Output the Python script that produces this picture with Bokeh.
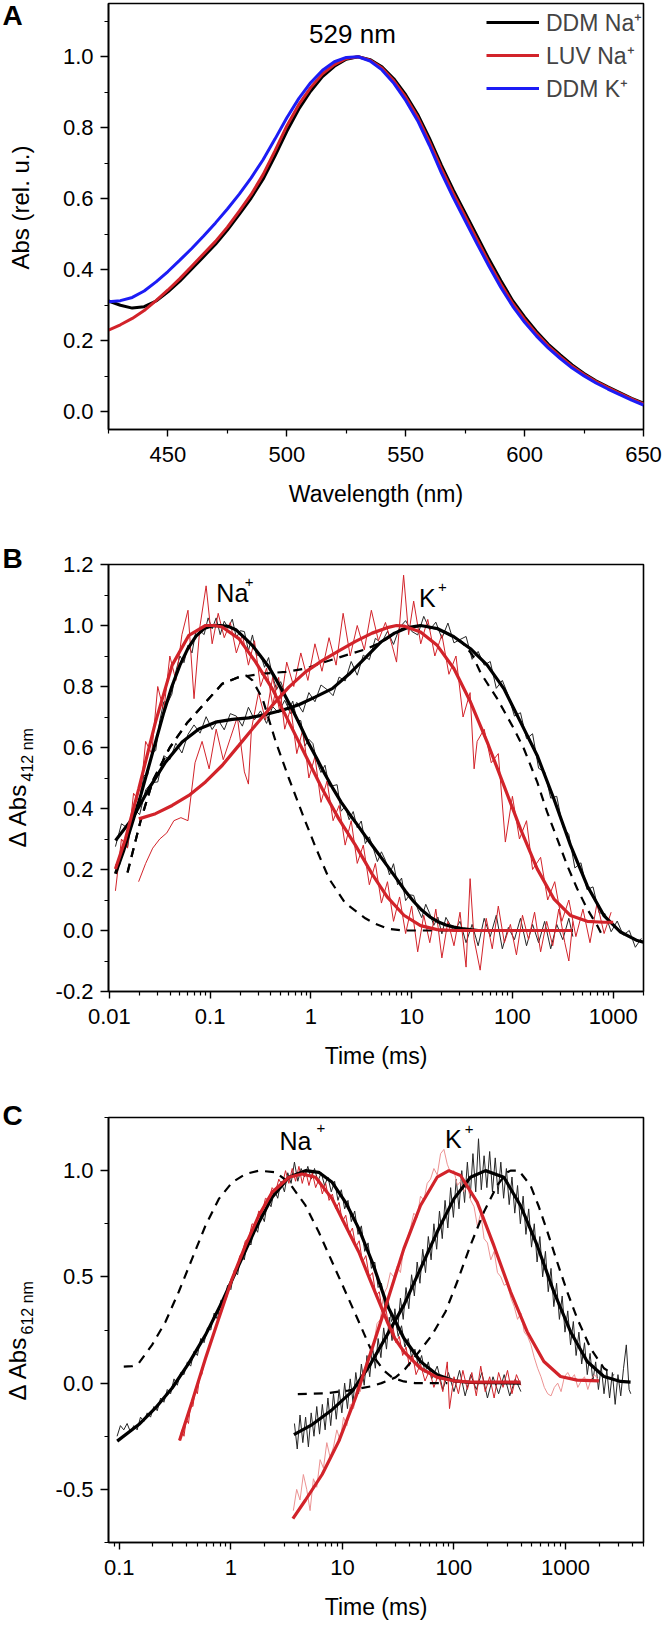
import numpy as np
from bokeh.plotting import figure
from bokeh.layouts import column, row
from bokeh.models import FixedTicker, Label, Legend, LegendItem, CustomJSTickFormatter
from bokeh.core.properties import value
from bokeh.embed import file_html
from bokeh.resources import INLINE

FONT = "Liberation Sans"
RED = "#d2232a"
PALE_RED = "#ec9393"
BLUE = "#1c1cf5"
GREY = "#262626"

# ---------------- Panel A : absorption spectra ----------------
A_WAVELENGTH = [425, 430, 435, 440, 445, 450, 455, 460, 465, 470, 475, 480, 485, 490, 495, 500,
                505, 510, 515, 520, 525, 530, 535, 540, 545, 550, 555, 560, 565, 570, 575, 580,
                585, 590, 595, 600, 605, 610, 615, 620, 625, 630, 635, 640, 645, 650]
A_DDM_NA = [0.312, 0.300, 0.292, 0.296, 0.312, 0.338, 0.368, 0.402, 0.437, 0.472, 0.512, 0.556,
            0.602, 0.655, 0.720, 0.790, 0.852, 0.903, 0.944, 0.973, 0.993, 1.000, 0.992, 0.972,
            0.938, 0.893, 0.838, 0.770, 0.695, 0.625, 0.560, 0.495, 0.430, 0.370, 0.313, 0.267,
            0.226, 0.190, 0.160, 0.132, 0.108, 0.087, 0.070, 0.054, 0.038, 0.024]
A_LUV_NA = [0.230, 0.245, 0.263, 0.285, 0.313, 0.343, 0.375, 0.410, 0.445, 0.480, 0.520, 0.565,
            0.612, 0.668, 0.735, 0.805, 0.865, 0.913, 0.952, 0.978, 0.995, 1.000, 0.990, 0.968,
            0.932, 0.886, 0.830, 0.760, 0.685, 0.615, 0.550, 0.485, 0.420, 0.360, 0.305, 0.260,
            0.220, 0.185, 0.155, 0.128, 0.105, 0.085, 0.068, 0.052, 0.036, 0.022]
A_DDM_K = [0.310, 0.313, 0.322, 0.340, 0.366, 0.395, 0.427, 0.460, 0.495, 0.532, 0.571, 0.613,
           0.659, 0.710, 0.768, 0.828, 0.882, 0.927, 0.962, 0.986, 0.998, 1.000, 0.988, 0.963,
           0.925, 0.877, 0.820, 0.750, 0.673, 0.603, 0.538, 0.473, 0.410, 0.350, 0.297, 0.252,
           0.213, 0.179, 0.150, 0.123, 0.101, 0.081, 0.064, 0.048, 0.033, 0.019]

# ---------------- Panel B : dAbs 412 nm  (pairs: log10(time/ms), value) ----------------
B_NA_BLK_FIT = [(-1.94, .186), (-1.86, .26), (-1.78, .345), (-1.70, .43), (-1.62, .525), (-1.54, .62),
                (-1.46, .715), (-1.38, .80), (-1.30, .87), (-1.22, .925), (-1.14, .965), (-1.06, .99),
                (-0.98, .999), (-0.90, 1.0), (-0.82, .997), (-0.74, .985), (-0.66, .96), (-0.58, .934),
                (-0.50, .90), (-0.42, .865), (-0.34, .82), (-0.26, .772), (-0.18, .722), (-0.10, .668),
                (-0.02, .612), (0.06, .563), (0.14, .512), (0.22, .465), (0.30, .421), (0.38, .383),
                (0.46, .347), (0.54, .31), (0.62, .274), (0.70, .238), (0.78, .202), (0.86, .165),
                (0.94, .128), (1.02, .095), (1.10, .067), (1.18, .045), (1.26, .029), (1.34, .018),
                (1.42, .011), (1.50, .006), (1.58, .003), (1.66, 0.0), (2.00, 0.0), (2.60, 0.0)]
B_NA_RED_FIT = [(-1.94, .202), (-1.84, .301), (-1.708, .465), (-1.542, .684), (-1.377, .870),
                (-1.211, .968), (-1.046, 1.0), (-0.96, 1.0), (-0.881, .995), (-0.715, .957),
                (-0.550, .881), (-0.384, .793), (-0.219, .684), (-0.053, .574), (0.112, .465),
                (0.277, .366), (0.443, .279), (0.608, .185), (0.757, .11), (0.923, .05), (1.088, .016),
                (1.253, .003), (1.419, 0.0), (2.593, 0.0)]
B_K_BLK_FIT = [(-1.939, .295), (-1.774, .366), (-1.608, .465), (-1.443, .552), (-1.278, .618),
               (-1.112, .661), (-0.947, .683), (-0.781, .692), (-0.616, .697), (-0.450, .708),
               (-0.285, .722), (-0.120, .740), (0.046, .766), (0.212, .793), (0.377, .84), (0.542, .895),
               (0.691, .945), (0.830, .975), (0.960, .993), (1.088, 1.0), (1.253, .99), (1.419, .963),
               (1.584, .924), (1.750, .870), (1.915, .793), (2.080, .684), (2.246, .574), (2.411, .432),
               (2.577, .279), (2.742, .147), (2.908, .049), (3.073, -.005), (3.239, -.033), (3.30, -.038)]
B_K_RED_FIT = [(-1.708, .366), (-1.542, .383), (-1.377, .410), (-1.211, .443), (-1.046, .487),
               (-0.881, .541), (-0.715, .607), (-0.550, .673), (-0.384, .738), (-0.219, .798),
               (-0.053, .848), (0.112, .885), (0.277, .917), (0.443, .948), (0.608, .975), (0.757, .993),
               (0.85, 1.0), (0.923, .998), (1.088, .979), (1.253, .935), (1.419, .859), (1.584, .749),
               (1.750, .618), (1.915, .476), (2.080, .333), (2.246, .202), (2.411, .104), (2.577, .049),
               (2.742, .030), (2.908, .027), (3.0, .027)]
B_NA_DASH = [(-1.82, .19), (-1.69, .36), (-1.57, .49), (-1.40, .60), (-1.23, .68), (-1.10, .728),
             (-0.88, .809), (-0.72, .830), (-0.64, .836), (-0.58, .82), (-0.48, .76), (-0.35, .62),
             (-0.22, .50), (-0.07, .37), (0.05, .27), (0.18, .17), (0.34, .09), (0.54, .04), (0.64, .022),
             (0.76, .006), (0.92, 0.0), (2.58, 0.0)]
B_K_DASH = [(-1.82, .19), (-1.69, .36), (-1.57, .49), (-1.40, .60), (-1.23, .68), (-1.10, .728),
            (-0.88, .809), (-0.72, .830), (-0.48, .842), (-0.25, .848), (-0.05, .859), (0.145, .881),
            (0.344, .902), (0.542, .922), (0.70, .945), (0.90, .988), (1.10, 1.0), (1.30, .985),
            (1.50, .945), (1.60, .905), (1.684, .845), (1.849, .760), (2.014, .662), (2.114, .596),
            (2.246, .487), (2.345, .388), (2.444, .301), (2.544, .213), (2.643, .137), (2.742, .071),
            (2.842, .016), (2.897, -.02)]
B_NA_BLK_RAW = [(-1.94, .216), (-1.90, .213), (-1.86, .28), (-1.82, .273), (-1.78, .355), (-1.74, .413),
                (-1.70, .41), (-1.66, .508), (-1.62, .51), (-1.58, .583), (-1.54, .59), (-1.50, .688),
                (-1.46, .75), (-1.42, .748), (-1.38, .775), (-1.34, .85), (-1.30, .90), (-1.26, .878),
                (-1.22, .935), (-1.18, .91), (-1.14, .985), (-1.10, .983), (-1.06, .97), (-1.02, 1.025),
                (-0.98, .989), (-0.94, 1.025), (-0.90, .97), (-0.86, 1.014), (-0.82, .992), (-0.78, 1.021),
                (-0.74, .96), (-0.70, .983), (-0.66, .98), (-0.62, .917), (-0.58, .969), (-0.54, .902),
                (-0.50, .905), (-0.46, .863), (-0.42, .895), (-0.38, .833), (-0.34, .79), (-0.30, .816),
                (-0.26, .782), (-0.22, .722), (-0.18, .752), (-0.14, .69), (-0.10, .688), (-0.06, .605),
                (-0.02, .627), (0.02, .613), (0.06, .553), (0.10, .518), (0.14, .542), (0.18, .474),
                (0.22, .475), (0.26, .478), (0.30, .391), (0.34, .407), (0.38, .363), (0.42, .39),
                (0.46, .337), (0.50, .359), (0.54, .285), (0.58, .307), (0.62, .269), (0.66, .226),
                (0.70, .258), (0.74, .23), (0.78, .182), (0.82, .219), (0.86, .15), (0.90, .172),
                (0.94, .098), (0.98, .117), (1.02, .115), (1.06, .071), (1.10, .042), (1.14, .086),
                (1.18, .055), (1.22, .017), (1.26, .044), (1.30, -.011), (1.34, .043), (1.38, .02),
                (1.42, -.004), (1.48, .03), (1.54, -.04), (1.60, .02), (1.66, -.05), (1.72, .04),
                (1.78, -.02), (1.84, .05), (1.90, -.06), (1.96, .01), (2.02, -.03), (2.08, .04),
                (2.14, -.05), (2.20, .02), (2.26, -.04), (2.32, .03), (2.38, -.06), (2.44, .02),
                (2.50, -.03), (2.56, .04), (2.60, -.02)]
B_NA_RED_RAW = [(-1.94, .13), (-1.88, .30), (-1.82, .27), (-1.76, .45), (-1.70, .42), (-1.64, .62),
                (-1.58, .58), (-1.52, .80), (-1.46, .72), (-1.40, .90), (-1.34, .82), (-1.28, .97),
                (-1.22, 1.05), (-1.16, .76), (-1.10, 1.00), (-1.04, 1.13), (-0.98, .94), (-0.92, 1.04),
                (-0.86, .96), (-0.80, 1.01), (-0.74, .91), (-0.68, .97), (-0.62, .87), (-0.56, .95),
                (-0.50, .80), (-0.44, .86), (-0.38, .74), (-0.32, .83), (-0.26, .66), (-0.20, .73),
                (-0.14, .58), (-0.08, .66), (-0.02, .50), (0.04, .57), (0.10, .42), (0.16, .49),
                (0.22, .36), (0.28, .41), (0.34, .28), (0.40, .36), (0.46, .22), (0.52, .28),
                (0.58, .15), (0.64, .22), (0.70, .09), (0.76, .16), (0.82, .03), (0.88, .11),
                (0.94, -.01), (1.00, .08), (1.06, -.07), (1.12, .05), (1.18, -.04), (1.24, .07),
                (1.30, -.09), (1.36, .03), (1.42, -.05), (1.48, .06), (1.54, -.12), (1.58, .17),
                (1.62, -.03), (1.68, -.13), (1.74, .04), (1.80, -.06), (1.86, .08), (1.92, -.04),
                (1.98, .02), (2.04, -.08), (2.10, .05), (2.16, -.03), (2.22, .06), (2.28, -.07),
                (2.34, .03), (2.40, -.05), (2.46, .07), (2.52, -.04), (2.56, -.10), (2.60, .03)]
B_K_BLK_RAW = [(-1.94, .275), (-1.88, .35), (-1.82, .336), (-1.76, .399), (-1.70, .38), (-1.64, .461),
               (-1.58, .485), (-1.52, .487), (-1.46, .573), (-1.40, .56), (-1.34, .614), (-1.28, .582),
               (-1.22, .643), (-1.16, .674), (-1.10, .647), (-1.04, .701), (-0.98, .659), (-0.92, .69),
               (-0.86, .658), (-0.80, .711), (-0.74, .703), (-0.68, .67), (-0.62, .732), (-0.56, .691),
               (-0.50, .72), (-0.44, .679), (-0.38, .734), (-0.32, .714), (-0.26, .755), (-0.20, .711),
               (-0.14, .748), (-0.08, .716), (-0.02, .78), (0.04, .75), (0.10, .805), (0.16, .79),
               (0.22, .77), (0.28, .831), (0.34, .818), (0.40, .882), (0.46, .837), (0.52, .903),
               (0.58, .888), (0.64, .958), (0.70, .942), (0.76, .981), (0.82, .938), (0.88, .993),
               (0.94, 1.016), (1.00, .981), (1.06, .969), (1.12, 1.03), (1.18, .986), (1.24, 1.011),
               (1.30, .958), (1.36, 1.008), (1.42, .943), (1.48, .954), (1.54, .964), (1.60, .889),
               (1.66, .915), (1.72, .87), (1.78, .882), (1.84, .794), (1.90, .82), (1.96, .77),
               (2.02, .703), (2.08, .714), (2.14, .629), (2.20, .645), (2.26, .532), (2.32, .52),
               (2.38, .434), (2.44, .44), (2.50, .34), (2.56, .315), (2.62, .205), (2.68, .222),
               (2.74, .134), (2.80, .143), (2.86, .058), (2.92, .055), (2.98, -.004), (3.04, .031),
               (3.10, -.015), (3.16, 0.0), (3.22, -.055), (3.28, -.026)]
B_K_RED_RAW = [(-1.71, .16), (-1.64, .22), (-1.57, .27), (-1.50, .30), (-1.43, .32), (-1.36, .36),
               (-1.29, .37), (-1.22, .36), (-1.15, .55), (-1.08, .62), (-1.01, .53), (-0.94, .66),
               (-0.87, .56), (-0.80, .63), (-0.73, .70), (-0.66, .52), (-0.62, .48), (-0.59, .66),
               (-0.52, .78), (-0.45, .69), (-0.38, .83), (-0.31, .72), (-0.24, .88), (-0.17, .80),
               (-0.10, .91), (-0.03, .82), (0.04, .94), (0.11, .85), (0.18, .96), (0.25, .87),
               (0.32, 1.04), (0.39, .90), (0.46, 1.00), (0.53, .92), (0.60, 1.05), (0.67, .95),
               (0.74, 1.01), (0.81, .93), (0.85, .88), (0.92, 1.165), (0.97, .97), (1.02, 1.08),
               (1.09, .94), (1.16, 1.02), (1.23, .90), (1.30, .97), (1.37, .84), (1.44, .90),
               (1.51, .70), (1.58, .78), (1.62, .53), (1.65, .62), (1.72, .66), (1.79, .55),
               (1.86, .58), (1.93, .29), (2.00, .44), (2.07, .30), (2.14, .36), (2.20, .20),
               (2.28, .24), (2.35, .10), (2.42, .16), (2.49, .03), (2.56, .10), (2.63, -.02),
               (2.70, .07), (2.77, -.04), (2.84, .09), (2.91, -.01), (2.98, .06)]

# ---------------- Panel C : dAbs 612 nm  (pairs: log10(time/ms), value) ----------------
C_NA_BLK_FIT = [(-1.019, -.273), (-0.825, -.195), (-0.676, -.117), (-0.526, -.023), (-0.377, .094),
                (-0.227, .227), (-0.078, .383), (0.071, .555), (0.221, .727), (0.370, .875), (0.520, .969),
                (0.669, 1.0), (0.788, .992), (0.908, .945), (1.027, .852), (1.147, .727), (1.267, .570),
                (1.401, .367), (1.551, .211), (1.700, .102), (1.849, .039), (1.999, .011), (2.148, .003),
                (2.596, 0.0)]
C_NA_RED_FIT = [(-0.460, -.270), (-0.347, -.086), (-0.227, .117), (-0.108, .305), (0.012, .492),
                (0.131, .648), (0.251, .789), (0.370, .898), (0.520, .969), (0.639, .984), (0.759, .969),
                (0.908, .867), (1.027, .742), (1.147, .617), (1.267, .461), (1.341, .367), (1.401, .29),
                (1.47, .21), (1.551, .148), (1.700, .070), (1.849, .027), (1.999, .011), (2.148, .005),
                (2.596, .005)]
C_K_BLK_FIT = [(0.565, -.242), (0.729, -.195), (0.908, -.125), (1.087, -.039), (1.252, .09), (1.401, .227),
               (1.551, .367), (1.700, .539), (1.849, .711), (1.999, .867), (2.148, .969), (2.283, 1.0),
               (2.447, .969), (2.596, .836), (2.746, .648), (2.895, .430), (3.045, .242), (3.194, .102),
               (3.344, .031), (3.493, .008), (3.583, .005)]
C_K_RED_FIT = [(0.556, -.638), (0.669, -.55), (0.818, -.43), (0.968, -.273), (1.117, -.070), (1.267, .164),
               (1.401, .383), (1.551, .633), (1.700, .836), (1.849, .969), (1.954, 1.0), (2.059, .977),
               (2.208, .852), (2.357, .648), (2.507, .430), (2.656, .242), (2.806, .102), (2.955, .031),
               (3.104, .014), (3.299, .011)]
C_NA_DASH = [(-0.960, .078), (-0.885, .080), (-0.825, .094), (-0.706, .180), (-0.586, .289), (-0.467, .430),
             (-0.347, .586), (-0.227, .742), (-0.108, .867), (0.012, .945), (0.131, .984), (0.251, 1.0),
             (0.400, .992), (0.520, .945), (0.669, .836), (0.788, .711), (0.908, .570), (1.027, .430),
             (1.147, .289), (1.237, .180), (1.30, .11), (1.37, .06), (1.45, .025), (1.55, .008),
             (1.65, 0.0), (1.94, 0.0)]
C_K_DASH = [(0.60, -.052), (0.85, -.048), (1.05, -.035), (1.25, -.016), (1.35, 0.0), (1.476, .027),
            (1.56, .065), (1.640, .117), (1.72, .17), (1.804, .227), (1.924, .336), (2.029, .477),
            (2.148, .649), (2.268, .805), (2.387, .930), (2.477, .992), (2.507, 1.0), (2.582, 1.0),
            (2.686, .930), (2.761, .83), (2.836, .715), (2.925, .570), (3.015, .430), (3.104, .305),
            (3.224, .164), (3.344, .070), (3.433, .039)]
C_NA_BLK_RAW = [(-1.02, -.25), (-0.99, -.20), (-0.96, -.22), (-0.93, -.19), (-0.90, -.23), (-0.87, -.20),
                (-0.84, -.22), (-0.81, -.16), (-0.78, -.18), (-0.75, -.14), (-0.72, -.16), (-0.69, -.11),
                (-0.66, -.13), (-0.63, -.07), (-0.60, -.09), (-0.57, -.03), (-0.54, -.05), (-0.51, .02),
                (-0.48, -.01), (-0.45, .05), (-0.42, .04), (-0.39, .10), (-0.36, .08), (-0.33, .15),
                (-0.30, .13), (-0.27, .21), (-0.24, .19), (-0.21, .26), (-0.18, .25), (-0.15, .33),
                (-0.12, .30), (-0.09, .39), (-0.06, .38), (-0.03, .46), (0.00, .44), (0.03, .53),
                (0.06, .51), (0.09, .60), (0.12, .58), (0.15, .67), (0.18, .65), (0.21, .74), (0.24, .71),
                (0.27, .80), (0.30, .76), (0.33, .86), (0.36, .83), (0.39, .91), (0.42, .87), (0.45, .95),
                (0.48, .90), (0.51, .99), (0.54, .94), (0.57, 1.04), (0.60, .95), (0.63, 1.01), (0.66, .97),
                (0.69, 1.02), (0.72, .96), (0.75, 1.01), (0.78, .95), (0.81, .99), (0.84, .93), (0.87, .97),
                (0.90, .90), (0.93, .95), (0.96, .86), (0.99, .91), (1.02, .82), (1.05, .86), (1.08, .76),
                (1.11, .81), (1.14, .70), (1.17, .74), (1.20, .62), (1.23, .66), (1.26, .54), (1.29, .57),
                (1.32, .45), (1.35, .47), (1.38, .36), (1.41, .39), (1.44, .29), (1.47, .32), (1.50, .22),
                (1.53, .27), (1.56, .17), (1.59, .21), (1.62, .12), (1.65, .16), (1.68, .08), (1.71, .13),
                (1.74, .05), (1.77, .10), (1.80, .02), (1.85, .08), (1.90, -.03), (1.95, .05), (2.00, -.04),
                (2.05, .06), (2.10, -.06), (2.15, .04), (2.20, -.03), (2.25, .05), (2.30, -.07), (2.35, .03),
                (2.40, -.05), (2.45, .04), (2.50, -.06), (2.55, .02), (2.60, -.04)]
C_NA_RED_RAW = [(-0.46, -.27), (-0.44, -.22), (-0.42, -.25), (-0.40, -.17), (-0.38, -.19), (-0.36, -.10),
                (-0.34, -.11), (-0.32, -.03), (-0.30, -.05), (-0.28, .03), (-0.26, .04), (-0.24, .10),
                (-0.22, .12), (-0.20, .16), (-0.18, .19), (-0.16, .22), (-0.14, .25), (-0.12, .28),
                (-0.10, .32), (-0.08, .34), (-0.06, .38), (-0.04, .40), (-0.02, .44), (0.00, .48),
                (0.02, .50), (0.04, .54), (0.06, .55), (0.08, .60), (0.10, .61), (0.13, .67), (0.16, .68),
                (0.19, .75), (0.22, .74), (0.25, .81), (0.28, .80), (0.31, .87), (0.34, .86), (0.37, .92),
                (0.40, .90), (0.43, .96), (0.46, .93), (0.49, 1.00), (0.52, .94), (0.55, 1.01), (0.58, .95),
                (0.61, 1.02), (0.64, .94), (0.67, 1.00), (0.70, .93), (0.73, .99), (0.76, .92), (0.79, .96),
                (0.82, .89), (0.85, .94), (0.88, .86), (0.91, .89), (0.94, .82), (0.97, .85), (1.00, .76),
                (1.03, .79), (1.06, .70), (1.09, .73), (1.12, .64), (1.15, .67), (1.18, .57), (1.21, .60),
                (1.24, .50), (1.27, .52), (1.30, .41), (1.33, .43), (1.36, .33), (1.39, .35), (1.42, .25),
                (1.45, .27), (1.48, .19), (1.51, .22), (1.54, .13), (1.57, .17), (1.60, .08), (1.63, .13),
                (1.66, .04), (1.70, .09), (1.74, .01), (1.78, .06), (1.82, -.02), (1.86, .04), (1.90, -.04),
                (1.94, .10), (1.96, -.12), (2.00, .03), (2.04, -.05), (2.08, .06), (2.12, -.03), (2.16, .05),
                (2.20, -.06), (2.24, .08), (2.28, -.04), (2.32, .03), (2.36, -.07), (2.40, .05), (2.44, -.02),
                (2.48, .06), (2.52, -.05), (2.56, .04), (2.60, -.01)]
C_K_BLK_RAW = [(0.57, -.19), (0.595, -.31), (0.62, -.15), (0.645, -.28), (0.67, -.16), (0.695, -.30),
               (0.72, -.14), (0.745, -.25), (0.77, -.11), (0.795, -.24), (0.82, -.10), (0.845, -.22),
               (0.87, -.07), (0.895, -.20), (0.92, -.05), (0.945, -.17), (0.97, -.03), (0.995, -.14),
               (1.02, .00), (1.045, -.12), (1.07, .02), (1.095, -.09), (1.12, .05), (1.145, -.05),
               (1.17, .09), (1.195, -.01), (1.22, .13), (1.245, .03), (1.27, .17), (1.295, .07),
               (1.32, .21), (1.345, .12), (1.37, .26), (1.395, .16), (1.42, .31), (1.445, .20),
               (1.47, .35), (1.495, .25), (1.52, .40), (1.545, .30), (1.57, .45), (1.595, .35),
               (1.62, .51), (1.645, .41), (1.67, .57), (1.695, .47), (1.72, .63), (1.745, .52),
               (1.77, .69), (1.795, .58), (1.82, .75), (1.845, .63), (1.87, .81), (1.895, .68),
               (1.92, .86), (1.945, .73), (1.97, .92), (1.995, .78), (2.02, .96), (2.045, .82),
               (2.07, 1.00), (2.095, .85), (2.12, 1.04), (2.145, .87), (2.17, 1.08), (2.195, .90),
               (2.22, 1.15), (2.245, .91), (2.27, 1.07), (2.295, .92), (2.32, 1.09), (2.345, .90),
               (2.37, 1.06), (2.395, .89), (2.42, 1.04), (2.445, .87), (2.47, 1.01), (2.495, .84),
               (2.52, .97), (2.545, .80), (2.57, .93), (2.595, .75), (2.62, .88), (2.645, .70),
               (2.67, .82), (2.695, .64), (2.72, .75), (2.745, .57), (2.77, .69), (2.795, .50),
               (2.82, .62), (2.845, .43), (2.87, .54), (2.895, .36), (2.92, .47), (2.945, .30),
               (2.97, .41), (2.995, .24), (3.02, .34), (3.045, .18), (3.07, .29), (3.095, .13),
               (3.12, .24), (3.145, .09), (3.17, .19), (3.195, .04), (3.22, .14), (3.245, .01),
               (3.27, .10), (3.295, -.03), (3.32, .08), (3.345, -.05), (3.37, .06), (3.395, -.07),
               (3.42, .05), (3.445, -.10), (3.47, .04), (3.495, -.06), (3.52, .07), (3.545, .18),
               (3.57, -.03), (3.585, -.05)]
C_K_RED_RAW = [(0.56, -.60), (0.59, -.50), (0.62, -.55), (0.65, -.43), (0.68, -.50), (0.71, -.60),
               (0.74, -.45), (0.77, -.49), (0.80, -.36), (0.83, -.40), (0.86, -.28), (0.89, -.35),
               (0.92, -.30), (0.95, -.22), (0.98, -.27), (1.01, -.16), (1.04, -.20), (1.07, -.10),
               (1.10, -.12), (1.13, -.02), (1.16, -.04), (1.19, .06), (1.22, .05), (1.25, .16),
               (1.28, .18), (1.31, .28), (1.34, .30), (1.37, .42), (1.40, .45), (1.43, .52), (1.46, .50),
               (1.49, .55), (1.52, .52), (1.55, .64), (1.58, .68), (1.61, .73), (1.64, .80), (1.67, .78),
               (1.70, .88), (1.73, .86), (1.76, .94), (1.79, .96), (1.82, 1.01), (1.85, .98), (1.88, 1.08),
               (1.91, 1.10), (1.94, 1.03), (1.97, .99), (2.00, 1.00), (2.03, .93), (2.06, .95), (2.09, .90),
               (2.12, .93), (2.15, .86), (2.18, .83), (2.21, .74), (2.24, .80), (2.27, .68), (2.30, .66),
               (2.33, .58), (2.36, .62), (2.39, .52), (2.42, .50), (2.45, .46), (2.48, .47), (2.51, .40),
               (2.54, .36), (2.57, .30), (2.60, .33), (2.63, .24), (2.66, .22), (2.69, .18), (2.72, .12),
               (2.75, .07), (2.78, .03), (2.81, -.02), (2.84, -.05), (2.87, -.06), (2.90, -.02), (2.93, .00),
               (2.96, -.04), (2.99, .03), (3.02, .05), (3.05, .02), (3.08, .04), (3.11, -.02), (3.14, .01),
               (3.17, .03), (3.20, -.03), (3.23, .02), (3.26, .04), (3.30, .01)]


def xy(pairs):
    lt = np.array([p[0] for p in pairs], dtype=float)
    v = np.array([p[1] for p in pairs], dtype=float)
    return 10.0 ** lt, v


YFMT = "return tick.toFixed(1);"
XFMT = "return String(tick);"


def style(p, xlabel):
    p.outline_line_color = "black"
    p.outline_line_width = 1.6
    p.outline_line_alpha = 1.0
    p.xgrid.visible = False
    p.ygrid.visible = False
    p.background_fill_color = "white"
    p.border_fill_color = "white"
    for ax in (p.xaxis[0], p.yaxis[0]):
        ax.axis_line_width = 1.6
        ax.major_tick_in = 0
        ax.major_tick_out = 8
        ax.minor_tick_in = 0
        ax.minor_tick_out = 4
        ax.major_tick_line_width = 1.4
        ax.minor_tick_line_width = 1.2
        ax.major_label_text_font = FONT
        ax.major_label_text_font_size = "22px"
        ax.major_label_text_color = "black"
    p.xaxis[0].major_tick_out = 7
    p.xaxis[0].major_label_standoff = 10
    p.yaxis[0].major_label_standoff = 7
    p.yaxis[0].formatter = CustomJSTickFormatter(code=YFMT)
    p.xaxis[0].axis_label = xlabel
    p.xaxis[0].axis_label_text_font = FONT
    p.xaxis[0].axis_label_text_font_size = "23px"
    p.xaxis[0].axis_label_text_font_style = "normal"
    p.xaxis[0].axis_label_text_color = "black"
    p.xaxis[0].axis_label_standoff = 16


def lab(p, text, x, y, size, align="center"):
    p.add_layout(Label(x=x, y=y, text=text, text_font=FONT, text_font_size=f"{size}px",
                       text_align=align, text_baseline="middle", text_color="black"))


def gutter(height, letter, letter_top, title_parts):
    """Left strip (own column) holding the panel letter and the rotated y-axis title.
    Positions are given in pixels measured from the top of the strip."""
    g = figure(width=44, height=height, x_range=(0, 44), y_range=(0, height),
               x_axis_location=None, y_axis_location=None, toolbar_location=None,
               output_backend="svg", min_border=0, min_border_left=0, min_border_right=0,
               min_border_top=0, min_border_bottom=0)
    g.outline_line_color = None
    g.xgrid.visible = False
    g.ygrid.visible = False
    g.text(x=[2], y=[height - letter_top], text=[letter], text_font=value(FONT),
           text_font_size=value("28px"), text_font_style="bold", text_align="left",
           text_baseline="middle", text_color="black")
    for (tx, ttop, txt, size, align) in title_parts:
        g.text(x=[tx], y=[height - ttop], text=[txt], angle=np.pi / 2, text_font=value(FONT),
               text_font_size=value(f"{size}px"), text_align=align, text_baseline="middle",
               text_color="black")
    return g


def decade_minors(decades):
    out = []
    for d in decades:
        for m in range(2, 10):
            out.append(m * d)
    return out


common = dict(width=620, output_backend="svg", toolbar_location=None,
              min_border_left=64, min_border_right=21)

# ---------- Panel A ----------
HA, HB, HC = 520, 555, 550
pA = figure(height=HA, x_range=(425, 650), y_range=(-0.05, 1.15),
            min_border_top=3, min_border_bottom=91, **common)
style(pA, "Wavelength (nm)")
pA.xaxis[0].ticker = FixedTicker(ticks=[450, 500, 550, 600, 650], minor_ticks=[425, 475, 525, 575, 625])
pA.yaxis[0].ticker = FixedTicker(ticks=[0.0, 0.2, 0.4, 0.6, 0.8, 1.0],
                                 minor_ticks=[0.1, 0.3, 0.5, 0.7, 0.9, 1.1])
rA1 = pA.line(A_WAVELENGTH, A_DDM_NA, color="black", line_width=3)
rA2 = pA.line(A_WAVELENGTH, A_LUV_NA, color=RED, line_width=3)
rA3 = pA.line(A_WAVELENGTH, A_DDM_K, color=BLUE, line_width=3)
legA = Legend(items=[LegendItem(label="DDM Na\u207a", renderers=[rA1]),
                     LegendItem(label="LUV Na\u207a", renderers=[rA2]),
                     LegendItem(label="DDM K\u207a", renderers=[rA3])],
              location=(372, 319), border_line_alpha=0, background_fill_alpha=0,
              label_text_font=FONT, label_text_font_size="23px", glyph_width=53, glyph_height=20,
              label_height=20, spacing=1, padding=6, margin=0, label_standoff=7)
pA.add_layout(legA)
lab(pA, "529 nm", 527.6, 1.064, 26)
gA = gutter(HA, "A", 15, [(20, 207, "Abs (rel. u.)", 24, "center")])

# ---------- Panel B ----------
pB = figure(height=HB, x_axis_type="log", x_range=(0.0098, 2000), y_range=(-0.2, 1.2),
            min_border_top=44, min_border_bottom=84, **common)
style(pB, "Time (ms)")
pB.xaxis[0].ticker = FixedTicker(ticks=[0.01, 0.1, 1, 10, 100, 1000],
                                 minor_ticks=decade_minors([0.01, 0.1, 1, 10, 100]) + [2000])
pB.xaxis[0].formatter = CustomJSTickFormatter(code=XFMT)
pB.yaxis[0].ticker = FixedTicker(ticks=[-0.2, 0.0, 0.2, 0.4, 0.6, 0.8, 1.0, 1.2],
                                 minor_ticks=[-0.1, 0.1, 0.3, 0.5, 0.7, 0.9, 1.1])
for pairs, col in [(B_NA_BLK_RAW, GREY), (B_K_BLK_RAW, GREY), (B_NA_RED_RAW, RED), (B_K_RED_RAW, RED)]:
    x, y = xy(pairs)
    pB.line(x, y, color=col, line_width=1)
for pairs in (B_NA_DASH, B_K_DASH):
    x, y = xy(pairs)
    pB.line(x, y, color="black", line_width=2.2, line_dash="9 7")
for pairs, col in [(B_NA_BLK_FIT, "black"), (B_K_BLK_FIT, "black"), (B_NA_RED_FIT, RED), (B_K_RED_FIT, RED)]:
    x, y = xy(pairs)
    pB.line(x, y, color=col, line_width=3.2)
lab(pB, "Na", 0.166, 1.106, 25)
lab(pB, "+", 0.221, 1.143, 15, align="left")
lab(pB, "K", 14.3, 1.091, 25)
lab(pB, "+", 18.3, 1.127, 15, align="left")
gB = gutter(HB, "B", 38, [(17, 263, "\u0394 Abs", 24, "right"),
                          (27, 261, "412 nm", 16, "left")])

# ---------- Panel C ----------
pC = figure(height=HC, x_axis_type="log", x_range=(0.08, 5000), y_range=(-0.75, 1.25),
            min_border_top=42, min_border_bottom=83, **common)
style(pC, "Time (ms)")
pC.xaxis[0].ticker = FixedTicker(ticks=[0.1, 1, 10, 100, 1000],
                                 minor_ticks=[0.09] + decade_minors([0.1, 1, 10, 100]) + [2000, 3000, 4000, 5000])
pC.xaxis[0].formatter = CustomJSTickFormatter(code=XFMT)
pC.yaxis[0].ticker = FixedTicker(ticks=[-0.5, 0.0, 0.5, 1.0], minor_ticks=[-0.75, -0.25, 0.25, 0.75, 1.25])
for pairs, col in [(C_NA_BLK_RAW, GREY), (C_K_BLK_RAW, GREY), (C_K_RED_RAW, PALE_RED), (C_NA_RED_RAW, RED)]:
    x, y = xy(pairs)
    pC.line(x, y, color=col, line_width=1)
for pairs in (C_NA_DASH, C_K_DASH):
    x, y = xy(pairs)
    pC.line(x, y, color="black", line_width=2.2, line_dash="9 7")
for pairs, col in [(C_NA_BLK_FIT, "black"), (C_K_BLK_FIT, "black"), (C_NA_RED_FIT, RED), (C_K_RED_FIT, RED)]:
    x, y = xy(pairs)
    pC.line(x, y, color=col, line_width=3.2)
lab(pC, "Na", 3.8, 1.14, 25)
lab(pC, "+", 5.87, 1.20, 15, align="left")
lab(pC, "K", 98.6, 1.149, 25)
lab(pC, "+", 125, 1.196, 15, align="left")
gC = gutter(HC, "C", 40, [(17, 261, "\u0394 Abs", 24, "right"),
                          (27, 259, "612 nm", 16, "left")])

layout = row(column(gA, gB, gC), column(pA, pB, pC))
with open("out.html", "w", encoding="utf-8") as f:
    f.write(file_html(layout, INLINE))
